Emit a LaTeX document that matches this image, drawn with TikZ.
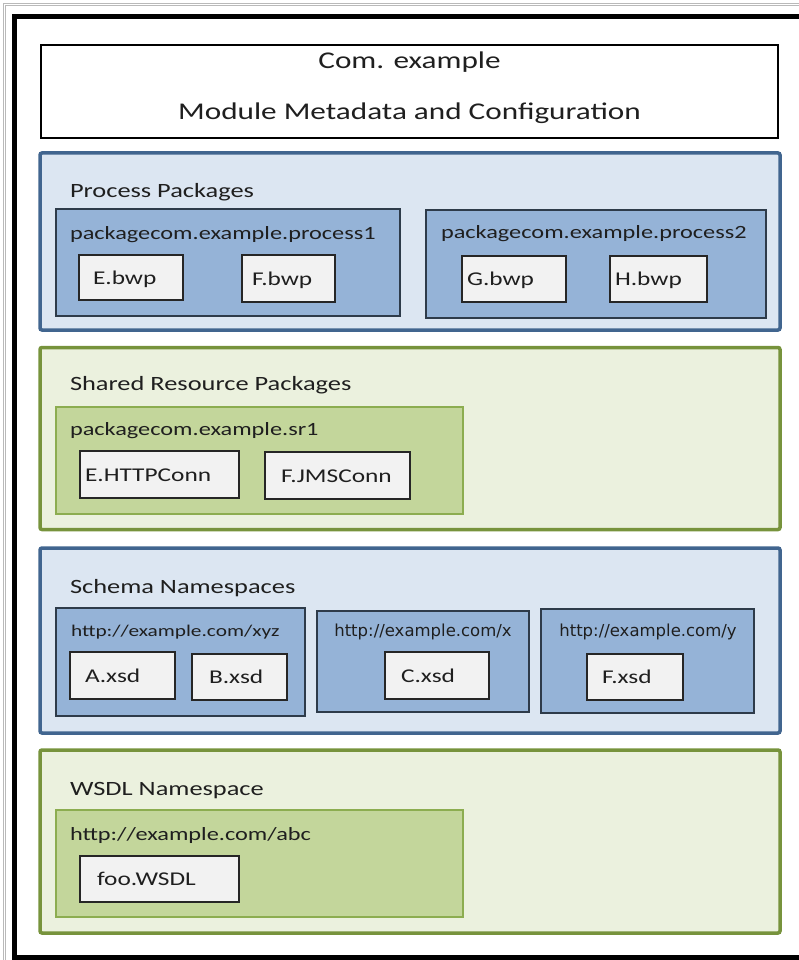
\documentclass[tikz,border=0pt]{standalone}
\usepackage{fontspec}
\setmainfont{Carlito}[FakeStretch=1.3]
\newfontfamily\urlfont{DejaVu Sans}
\usetikzlibrary{positioning,calc}
\definecolor{blueline}{HTML}{41658F}
\definecolor{bluefill}{HTML}{DCE6F2}
\definecolor{pkgblue}{HTML}{95B3D7}
\definecolor{pkgline}{HTML}{2E3B4A}
\definecolor{greenline}{HTML}{77933C}
\definecolor{greenfill}{HTML}{EBF1DE}
\definecolor{pkggreen}{HTML}{C3D69B}
\definecolor{pkggreenline}{HTML}{8CAD50}
\definecolor{filefill}{HTML}{F2F2F2}
\definecolor{fileline}{HTML}{262626}
\definecolor{textcol}{HTML}{1F1F1F}

\begin{document}
\begin{tikzpicture}[x=1pt,y=-1pt,thick]
\tikzstyle{every node}=[inner sep=0pt,outer sep=0pt,text=textcol]
\tikzstyle{bluepanel}=[draw=blueline,fill=bluefill,line width=3.5pt,rounded corners=2pt,anchor=north west]
\tikzstyle{greenpanel}=[draw=greenline,fill=greenfill,line width=3.5pt,rounded corners=2pt,anchor=north west]
\tikzstyle{bluepkg}=[draw=pkgline,fill=pkgblue,line width=1.3pt,anchor=north west]
\tikzstyle{greenpkg}=[draw=pkggreenline,fill=pkggreen,line width=1.2pt,anchor=north west]
\tikzstyle{file}=[draw=fileline,fill=filefill,line width=1.5pt,anchor=north west,align=left,text height=13pt,text depth=0pt,font=\fontsize{19.5}{22}\selectfont]
\tikzstyle{heading}=[anchor=base west,font=\fontsize{20.3}{24}\selectfont]
\tikzstyle{pkglabel}=[anchor=base west,font=\fontsize{18.7}{22}\selectfont]
\tikzstyle{urllabel}=[anchor=base,font=\urlfont\fontsize{16.5}{20}\selectfont]

\useasboundingbox (0,0) rectangle (799,960);
\clip (0,0) rectangle (799,960);
\draw[gray!55,line width=0.8pt,double=white,double distance=1.4pt] (4.5,4.5) rectangle (840,990);
\draw[black,line width=4.5pt] (14.5,16.5) rectangle (840,957.5);

\node[draw=black,fill=white,line width=1.3pt,anchor=north west,minimum width=737,minimum height=93] (meta) at (41,45) {};
\node[font=\fontsize{24}{51}\selectfont,align=center] (metatext) at (409.5,87.5) {Com. example\\Module Metadata and Configuration};

\node[bluepanel,minimum width=740,minimum height=177] (procpanel) at (40,153) {};
\node[heading] (proctitle) at (70,197) {Process Packages};
\node[bluepkg,minimum width=344,minimum height=107] (proc1) at (56,209) {};
\node[pkglabel] (proc1lbl) at (70,239) {packagecom.example.process1};
\node[bluepkg,minimum width=340,minimum height=108] (proc2) at (426,210) {};
\node[pkglabel] (proc2lbl) at (441,238) {packagecom.example.process2};
\node[file,text width=76pt,inner xsep=14pt,minimum height=45] (ebwp) at (79,255) {E.bwp};
\node[file,text width=73pt,inner xsep=10pt,minimum height=47] (fbwp) at (242,255) {F.bwp};
\node[file,text width=94pt,inner xsep=5pt,minimum height=46] (gbwp) at (462,256) {G.bwp};
\node[file,text width=87pt,inner xsep=5pt,minimum height=46] (hbwp) at (610,256) {H.bwp};

\node[greenpanel,minimum width=740,minimum height=182] (srpanel) at (40,347.5) {};
\node[heading] (srtitle) at (70,390) {Shared Resource Packages};
\node[greenpkg,minimum width=407,minimum height=107] (sr1) at (56,407) {};
\node[pkglabel] (sr1lbl) at (70,435) {packagecom.example.sr1};
\node[file,text width=149pt,inner xsep=5pt,minimum height=47] (httpconn) at (80,451) {E.HTTPConn};
\node[file,text width=113pt,inner xsep=16pt,minimum height=47] (jmsconn) at (265,452) {F.JMSConn};

\node[bluepanel,minimum width=740,minimum height=185] (xsdpanel) at (40,548) {};
\node[heading] (xsdtitle) at (70,593) {Schema Namespaces};
\node[bluepkg,minimum width=249,minimum height=108] (nsxyz) at (56,608) {};
\node[pkglabel,font=\fontsize{16.4}{20}\selectfont] (nsxyzlbl) at (71,636) {http://example.com/xyz};
\node[bluepkg,minimum width=212,minimum height=101] (nsx) at (317,611) {};
\node[urllabel] (nsxlbl) at (423,636) {http://example.com/x};
\node[bluepkg,minimum width=213,minimum height=104] (nsy) at (541,609) {};
\node[urllabel] (nsylbl) at (648,636) {http://example.com/y};
\node[file,text width=75pt,inner xsep=15pt,minimum height=47] (axsd) at (70,652) {A.xsd};
\node[file,text width=61pt,inner xsep=17pt,minimum height=46] (bxsd) at (192,654) {B.xsd};
\node[file,text width=72pt,inner xsep=16pt,minimum height=47] (cxsd) at (385,652) {C.xsd};
\node[file,text width=66pt,inner xsep=15pt,minimum height=46] (fxsd) at (587,654) {F.xsd};

\node[greenpanel,minimum width=740,minimum height=183] (wsdlpanel) at (40,750) {};
\node[heading] (wsdltitle) at (70,795) {WSDL Namespace};
\node[greenpkg,minimum width=407,minimum height=107] (nsabc) at (56,810) {};
\node[pkglabel] (nsabclbl) at (70,840) {http://example.com/abc};
\node[file,text width=125pt,inner xsep=17pt,minimum height=46] (foowsdl) at (80,856) {foo.WSDL};
\end{tikzpicture}
\end{document}
